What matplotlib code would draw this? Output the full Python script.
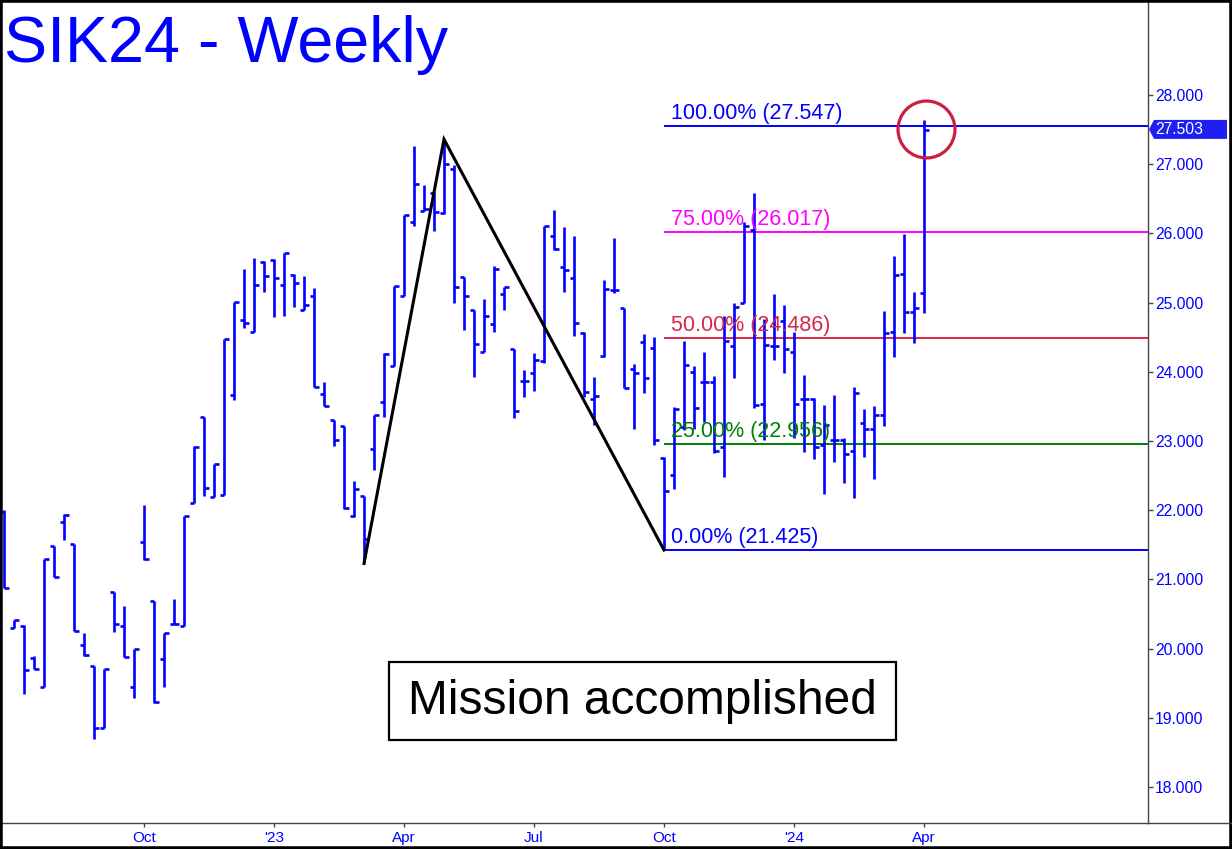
import matplotlib
matplotlib.use('Agg')
import matplotlib.pyplot as plt
from matplotlib import font_manager
from matplotlib.collections import LineCollection
from matplotlib.patches import Rectangle, Polygon
from matplotlib.lines import Line2D
import matplotlib.transforms as mtrans

# ---------------- data (weekly OHLC, SIK24) ----------------
opens = [21.98, 20.30, 20.32, 19.87, 19.44, 21.48, 21.83, 21.51, 20.05, 19.75,
         18.85, 20.82, 20.33, 19.44, 21.54, 20.69, 19.85, 20.35, 20.32, 22.10,
         23.35, 22.19, 22.22, 23.66, 24.75, 24.57, 25.58, 25.61, 25.25, 25.40,
         24.89, 25.10, 23.68, 23.30, 23.22, 21.91, 22.21, 22.88, 23.56, 24.09,
         25.10, 26.16, 26.32, 26.59, 26.30, 26.93, 25.37, 24.90, 24.29, 24.69,
         25.13, 24.33, 23.87, 23.99, 24.15, 25.96, 25.51, 25.35, 24.56, 23.61,
         24.23, 25.18, 24.92, 24.04, 24.43, 24.35, 22.76, 22.51, 23.20, 24.00,
         23.85, 23.86, 22.92, 24.37, 25.00, 26.05, 23.54, 24.38, 24.74, 24.28,
         23.61, 23.60, 22.94, 23.01, 23.01, 22.86, 23.26, 23.17, 23.38, 24.58,
         25.41, 24.86, 25.14]
highs = [22.00, 20.41, 20.34, 19.89, 21.30, 21.48, 21.95, 21.51, 20.22, 19.75,
         19.71, 20.82, 20.62, 19.99, 22.08, 20.69, 20.23, 20.72, 21.92, 22.93,
         23.35, 22.67, 24.48, 25.01, 25.48, 25.64, 25.60, 25.63, 25.72, 25.41,
         25.38, 25.21, 23.85, 23.31, 23.22, 22.42, 22.21, 23.37, 24.27, 25.24,
         26.27, 27.26, 26.70, 26.60, 27.36, 26.99, 25.37, 24.90, 25.05, 25.53,
         25.23, 24.33, 24.03, 24.27, 26.11, 26.34, 26.09, 25.96, 24.57, 23.93,
         25.32, 25.94, 24.92, 24.12, 24.54, 24.51, 22.77, 23.49, 24.45, 24.09,
         24.28, 23.94, 24.80, 24.99, 26.17, 26.59, 24.77, 25.13, 24.97, 24.58,
         23.95, 23.62, 23.52, 23.66, 23.04, 23.78, 23.46, 23.51, 24.88, 25.67,
         25.99, 25.16, 27.64]
lows = [20.87, 20.30, 19.34, 19.71, 19.44, 21.04, 21.57, 20.26, 19.90, 18.69,
        18.85, 20.24, 19.88, 19.28, 21.28, 19.22, 19.44, 20.35, 20.32, 22.10,
        22.20, 22.19, 22.22, 23.59, 24.63, 24.57, 25.16, 24.79, 24.80, 24.94,
        24.89, 23.78, 23.50, 22.93, 22.02, 21.90, 21.23, 22.58, 23.35, 24.09,
        25.10, 26.10, 26.32, 26.03, 26.28, 24.99, 24.60, 23.92, 24.28, 24.57,
        24.90, 23.33, 23.63, 23.72, 24.13, 25.76, 25.15, 24.52, 23.63, 23.23,
        24.22, 25.14, 23.76, 23.18, 23.70, 22.94, 21.425, 22.30, 23.16, 23.17,
        23.28, 22.82, 22.48, 23.91, 25.00, 23.47, 23.01, 24.17, 23.98, 23.05,
        22.84, 22.74, 22.24, 22.69, 22.40, 22.17, 22.77, 22.45, 23.21, 24.21,
        24.56, 24.42, 24.85]
closes = [20.87, 20.41, 19.69, 19.71, 21.30, 21.04, 21.93, 20.26, 19.91, 18.86,
          19.71, 20.35, 19.88, 19.99, 21.29, 19.23, 20.22, 20.35, 21.92, 22.91,
          22.32, 22.67, 24.48, 25.01, 24.70, 25.25, 25.38, 25.36, 25.71, 25.28,
          24.97, 23.78, 23.51, 23.02, 22.03, 22.31, 21.59, 23.37, 24.26, 25.24,
          26.27, 26.72, 26.35, 26.31, 27.01, 25.23, 25.10, 24.40, 24.81, 25.49,
          25.23, 23.43, 23.87, 24.17, 26.11, 25.78, 25.47, 24.70, 23.71, 23.65,
          25.19, 25.18, 23.76, 23.98, 23.91, 23.02, 22.28, 23.46, 24.10, 23.47,
          23.85, 22.86, 24.45, 24.93, 26.10, 23.52, 24.39, 24.37, 24.33, 23.54,
          23.61, 22.92, 23.23, 23.01, 22.81, 23.70, 23.18, 23.38, 24.56, 25.40,
          24.86, 24.92, 27.50]

tick_pos = [14, 27, 40, 53, 66, 79, 92]
tick_labels = ['Oct', "'23", 'Apr', 'Jul', 'Oct', "'24", 'Apr']
y_ticks = [18, 19, 20, 21, 22, 23, 24, 25, 26, 27, 28]

fib_pcts = ['100.00%', '75.00%', '50.00%', '25.00%', '0.00%']
fib_vals = [27.547, 26.017, 24.486, 22.956, 21.425]
fib_colors = ['#0000ff', '#ff00ff', '#d7284b', '#008000', '#0000ff']
fib_start = 66

swing_idx = [36, 44, 66]
last_price = 27.503

# ---------------- fonts ----------------
names = {f.name for f in font_manager.fontManager.ttflist}
FONT = 'Liberation Sans' if 'Liberation Sans' in names else 'DejaVu Sans'
plt.rcParams['font.family'] = [FONT, 'DejaVu Sans']

BLUE = '#0000ff'

W, H = 1232, 849
fig = plt.figure(figsize=(W / 100, H / 100), dpi=100)
ax = fig.add_axes([0, 26 / H, 1148 / W, 1 - 26 / H])
ax.set_xlim(-0.4, 114.4)
ax.set_ylim(17.480, 29.373)

# ---------------- OHLC bars ----------------
n = len(closes)
tl = 0.45
segs = []
for i in range(n):
    segs.append([(i, lows[i]), (i, highs[i])])
    segs.append([(i - tl, opens[i]), (i, opens[i])])
    segs.append([(i, closes[i]), (i + tl, closes[i])])
ax.add_collection(LineCollection(segs, colors=BLUE, linewidths=1.9,
                                 capstyle='butt', zorder=3))

# ---------------- swing lines ----------------
sw_y = [lows[swing_idx[0]], highs[swing_idx[1]], lows[swing_idx[2]]]
ax.plot(swing_idx, sw_y, color='black', lw=2.2, zorder=4,
        solid_joinstyle='miter')

# ---------------- fib levels ----------------
for p, v, c in zip(fib_pcts, fib_vals, fib_colors):
    ax.plot([fib_start, 114.4], [v, v], color=c, lw=1.4, zorder=2,
            solid_capstyle='butt')
    ax.annotate(f'{p} ({v:.3f})', xy=(fib_start + 0.7, v), xytext=(0, 5),
                textcoords='offset points', va='baseline', ha='left',
                color=c, fontsize=15.5, zorder=5)

# ---------------- circle at last bar ----------------
ax.plot([n - 1 + 0.2], [last_price], marker='o', ms=41, mfc='none',
        mec='#cc1f40', mew=2.3, zorder=6)

# ---------------- mission box ----------------
ax.add_patch(Rectangle((38.5, 18.679), 50.7, 1.127, fill=True, fc='white',
                       ec='black', lw=1.6, zorder=6))
ax.text(38.5 + 50.7 / 2, 18.679 + 1.127 / 2, 'Mission accomplished',
        ha='center', va='center', fontsize=34.5, color='black', zorder=7)

# ---------------- axes styling ----------------
for s in ['top', 'left']:
    ax.spines[s].set_visible(False)
ax.spines['right'].set_color('#444444')
ax.spines['bottom'].set_color('#444444')
ax.spines['right'].set_linewidth(1.0)
ax.spines['bottom'].set_linewidth(1.0)
ax.yaxis.tick_right()
ax.set_yticks(y_ticks)
ax.set_yticklabels([f'{v:.3f}' for v in y_ticks])
ax.set_xticks(tick_pos)
ax.set_xticklabels(tick_labels)
ax.tick_params(axis='y', colors='#444444', labelcolor=BLUE, length=3.6,
               width=1, pad=1.5, labelsize=11.3)
ax.tick_params(axis='x', colors='#444444', labelcolor=BLUE, length=2.9,
               width=1, pad=3.0, labelsize=11)

# last price tag on the price axis
tr = mtrans.blended_transform_factory(ax.transAxes, ax.transData)
hh = 9.5 / 69.2
x0 = 1 + 1 / 1148
x1 = 1 + 6 / 1148
x2 = 1 + 79 / 1148
ax.add_patch(Polygon([(x0, last_price), (x1, last_price + hh), (x2, last_price + hh),
                      (x2, last_price - hh), (x1, last_price - hh)],
                     closed=True, transform=tr, fc='#1f1fef', ec='none',
                     clip_on=False, zorder=8))
ax.text(1 + 7 / 1148, last_price, f'{last_price:.3f}', transform=tr,
        ha='left', va='center', color='white', fontsize=11.3, clip_on=False,
        zorder=9)

# title
fig.text(4 / W, 1 - 62 / H, 'SIK24 - Weekly', color=BLUE, fontsize=46.5,
         ha='left', va='baseline')

# bottom line extending under the price axis
fig.add_artist(Line2D([1148 / W, 1], [26 / H, 26 / H], transform=fig.transFigure,
                      color='#444444', lw=1.0))
# outer frame
fig.add_artist(Rectangle((0, 0), 1, 1, transform=fig.transFigure, fill=False,
                         ec='black', lw=4))

fig.savefig('out.png', dpi=100)
